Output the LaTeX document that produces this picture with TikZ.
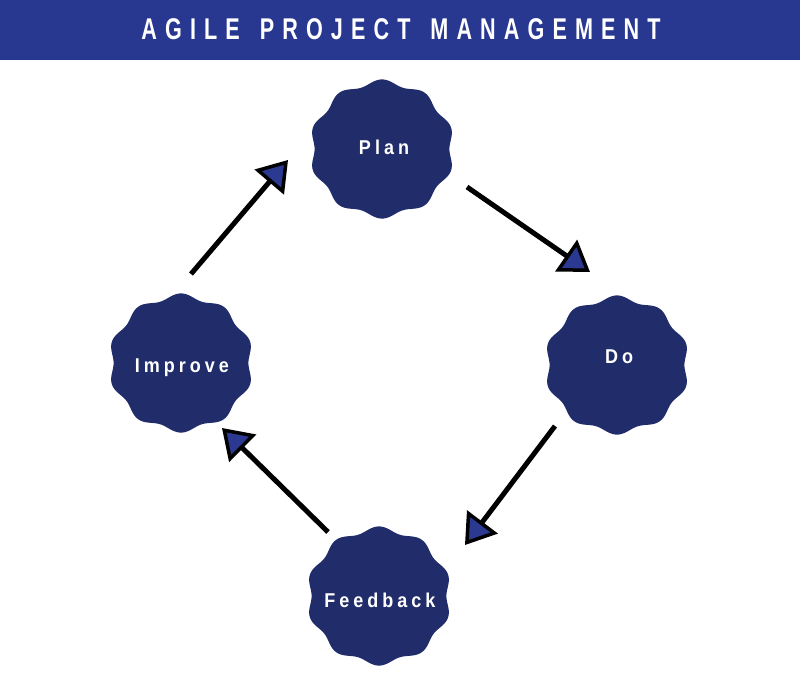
\documentclass[tikz,border=0pt]{standalone}
\usepackage{fontspec}
\setmainfont{Liberation Sans}
\newfontfamily\titlefont{Liberation Sans}[FakeStretch=0.72,LetterSpace=27]
\newfontfamily\labelfont{Liberation Sans}[FakeStretch=0.9,LetterSpace=20]
\usetikzlibrary{arrows.meta}
\definecolor{titlecol}{RGB}{40,56,145}
\definecolor{blobcol}{RGB}{33,45,107}
\definecolor{arrowcol}{RGB}{43,57,144}
\newcommand\blobat[2]{%
  \fill[blobcol] plot[domain=0:360,samples=241,smooth,variable=\t]
    ({#1+(70-2.6*cos(10*\t))*cos(\t)},{#2+(67-2.6*cos(10*\t))*sin(\t)}) -- cycle;}
\begin{document}
\begin{tikzpicture}[x=1pt,y=-1pt,
  titletext/.style={text=white,font=\titlefont\bfseries\fontsize{30}{30}\selectfont,inner sep=0pt},
  blobtext/.style={text=white,font=\labelfont\bfseries\fontsize{20}{20}\selectfont,inner sep=0pt},
  conn/.style={line width=5pt,draw=black,
    -{Triangle[length=29pt,width=38pt,fill=arrowcol,line width=3.5pt]}}]
\useasboundingbox (0,0) rectangle (800,678);
\fill[titlecol] (0,0) rectangle (800,60);
\node[titletext] (title) at (401,29) {AGILE\hspace*{20pt}PROJECT\hspace*{20pt}MANAGEMENT};
% blobs
\blobat{382}{149}
\blobat{617}{365}
\blobat{181}{363}
\blobat{379}{596}
\node[blobtext] (plan) at (384,147) {Plan};
\node[blobtext] (do) at (619,357) {Do};
\node[blobtext] (improve) at (182,368) {Improve};
\node[blobtext] (feedback) at (380,600) {Feedback};
% connector ends
\coordinate (s1) at (191,274); \coordinate (e1) at (288,160);
\coordinate (s2) at (467,187); \coordinate (e2) at (590,272);
\coordinate (s3) at (555,426); \coordinate (e3) at (465,545);
\coordinate (s4) at (328,532); \coordinate (e4) at (222,428);
\draw[conn] (s1) -- (e1);
\draw[conn] (s2) -- (e2);
\draw[conn] (s3) -- (e3);
\draw[conn] (s4) -- (e4);
\end{tikzpicture}
\end{document}
